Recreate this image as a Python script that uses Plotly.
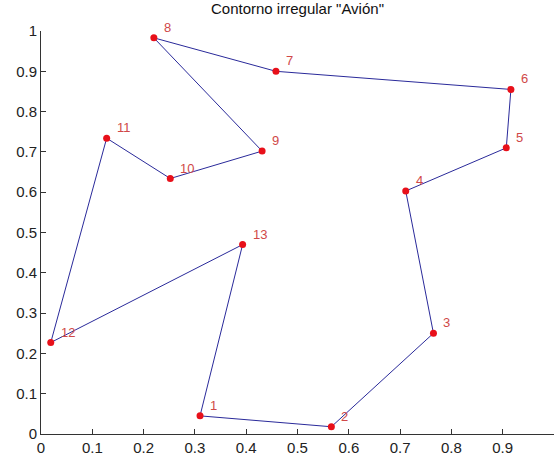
import plotly.graph_objects as go

# Puntos del contorno (orden de recorrido)
labels = ['1', '2', '3', '4', '5', '6', '7', '8', '9', '10', '11', '12', '13']
x_pts = [0.310, 0.566, 0.765, 0.711, 0.907, 0.916, 0.458, 0.220, 0.431, 0.252, 0.128, 0.019, 0.393]
y_pts = [0.045, 0.018, 0.250, 0.603, 0.710, 0.855, 0.900, 0.983, 0.702, 0.634, 0.734, 0.227, 0.470]

tick_vals = [0, 0.1, 0.2, 0.3, 0.4, 0.5, 0.6, 0.7, 0.8, 0.9, 1]
tick_text = ['0', '0.1', '0.2', '0.3', '0.4', '0.5', '0.6', '0.7', '0.8', '0.9', '1']

fig = go.Figure()

# contorno cerrado
fig.add_trace(go.Scatter(
    x=x_pts + x_pts[:1],
    y=y_pts + y_pts[:1],
    mode='lines',
    line=dict(color='#2a2a9a', width=1),
    hoverinfo='skip'
))

# puntos
fig.add_trace(go.Scatter(
    x=x_pts,
    y=y_pts,
    mode='markers',
    marker=dict(color='#e8101a', size=7)
))

# numero de cada punto
for lab, xv, yv in zip(labels, x_pts, y_pts):
    fig.add_annotation(x=xv, y=yv, text=lab, showarrow=False,
                       xanchor='left', yanchor='bottom', xshift=8, yshift=1,
                       font=dict(family='Arial, Liberation Sans', size=13, color='#d04848'))

axis_style = dict(
    range=[0, 1],
    tickvals=tick_vals,
    ticktext=tick_text,
    ticks='inside',
    ticklen=5,
    tickcolor='#333333',
    showline=True,
    linecolor='#333333',
    linewidth=1,
    showgrid=False,
    zeroline=False,
    automargin=False,
    tickfont=dict(family='Arial, Liberation Sans', size=15, color='#222222')
)

fig.update_layout(
    title=dict(text='Contorno irregular "Avión"', x=0.537, xanchor='center', y=0.992, yanchor='top',
               font=dict(family='Arial, Liberation Sans', size=15, color='#111111')),
    xaxis=axis_style,
    yaxis=axis_style,
    width=554,
    height=456,
    margin=dict(l=41, r=0, t=31, b=22),
    paper_bgcolor='white',
    plot_bgcolor='white',
    showlegend=False
)

# quitar el margen por defecto del body para que la figura quede en (0, 0)
fig.write_html('out.html', config={'displayModeBar': False},
               post_script="document.body.style.margin='0';")
